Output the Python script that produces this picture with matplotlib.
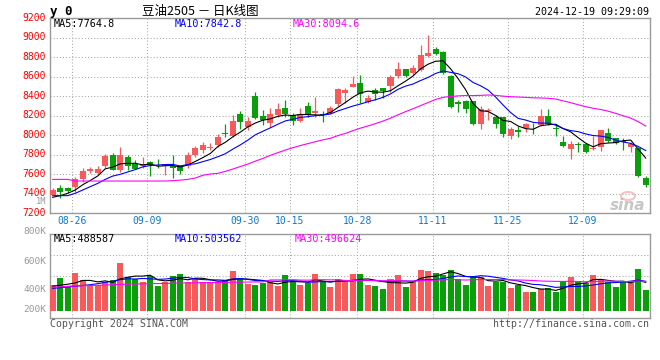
import matplotlib
matplotlib.use('Agg')
import matplotlib.pyplot as plt
import matplotlib.transforms as mtransforms
from matplotlib.patches import Ellipse
import numpy as np
import pandas as pd

# 豆油2505 日K线 (2024-08-21 ~ 2024-12-19)
opens = [7390, 7455, 7460, 7465, 7555, 7630, 7615, 7680, 7795, 7645,
         7780, 7705, 7680, 7728, 7690, 7690, 7690, 7680, 7680, 7800,
         7850, 7870, 7900, 8020, 7995, 8218, 8080, 8400, 8195, 8130,
         8210, 8283, 8210, 8145, 8300, 8225, 8218, 8225, 8320, 8430,
         8500, 8540, 8340, 8464, 8480, 8505, 8607, 8680, 8635, 8668,
         8812, 8884, 8855, 8610, 8343, 8350, 8350, 8115, 8245, 8190,
         8183, 7996, 8054, 8071, 8085, 8105, 8197, 8078, 7927, 7856,
         7910, 7910, 7856, 7876, 8020, 7975, 7944, 7883, 7873, 7559]
highs = [7455, 7490, 7470, 7576, 7668, 7678, 7690, 7805, 7820, 7885,
         7800, 7750, 7780, 7735, 7760, 7710, 7800, 7700, 7830, 7895,
         7935, 7925, 8010, 8115, 8210, 8250, 8190, 8445, 8260, 8285,
         8335, 8360, 8225, 8275, 8345, 8395, 8250, 8300, 8480, 8480,
         8605, 8617, 8410, 8480, 8485, 8617, 8754, 8685, 8725, 8925,
         9027, 8908, 8866, 8617, 8361, 8361, 8351, 8300, 8276, 8207,
         8190, 8088, 8095, 8122, 8122, 8269, 8269, 8115, 7996, 7945,
         7927, 7917, 7996, 8054, 8071, 7975, 7968, 7927, 7883, 7586]
lows = [7385, 7360, 7405, 7422, 7524, 7610, 7600, 7660, 7640, 7625,
        7645, 7650, 7660, 7585, 7660, 7595, 7560, 7600, 7660, 7780,
        7815, 7850, 7885, 7985, 7985, 8065, 8055, 8165, 8110, 8080,
        8190, 8190, 8110, 8140, 8185, 8190, 8140, 8218, 8300, 8335,
        8495, 8327, 8335, 8360, 8380, 8446, 8585, 8595, 8617, 8660,
        8805, 8823, 8627, 8276, 8242, 8225, 8105, 8064, 8156, 8070,
        7985, 7962, 7985, 8030, 8013, 8095, 8105, 7996, 7883, 7757,
        7825, 7822, 7849, 7842, 7934, 7910, 7849, 7832, 7569, 7473]
closes = [7440, 7415, 7425, 7555, 7630, 7655, 7650, 7790, 7645, 7795,
          7680, 7655, 7705, 7695, 7680, 7705, 7665, 7630, 7795, 7865,
          7900, 7880, 7985, 8010, 8150, 8140, 8150, 8180, 8155, 8218,
          8270, 8218, 8150, 8215, 8210, 8252, 8208, 8285, 8475, 8465,
          8525, 8425, 8378, 8425, 8458, 8600, 8680, 8612, 8690, 8822,
          8840, 8833, 8635, 8286, 8318, 8270, 8115, 8269, 8252, 8112,
          8013, 8064, 8037, 8115, 8080, 8197, 8115, 8061, 7893, 7910,
          7900, 7832, 7873, 8054, 7944, 7924, 7927, 7907, 7586, 7490]
# 成交量 (千手)
volumes = [452, 523, 435, 573, 501, 452, 452, 484, 501, 671,
           533, 507, 484, 543, 445, 484, 543, 559, 484, 523,
           478, 475, 484, 501, 592, 510, 461, 452, 468, 484,
           445, 550, 484, 452, 475, 559, 484, 435, 510, 478,
           559, 559, 452, 445, 412, 510, 550, 435, 491, 599,
           589, 573, 550, 599, 510, 452, 540, 527, 445, 484,
           484, 425, 452, 386, 386, 412, 425, 386, 491, 533,
           484, 468, 550, 501, 484, 435, 478, 468, 608, 403]
volumes = [v * 1000 for v in volumes]

# 图上读出的开头几天均线（需要更早的数据才能算）
ma5_head = [7364, 7381, 7405, 7439]
ma10_head = [7381, 7381, 7381, 7405, 7439, 7473, 7507, 7548, 7582]
ma30_head = [7548, 7548, 7548, 7531, 7531, 7531, 7531, 7531, 7531, 7531,
             7531, 7531, 7531, 7531, 7531, 7531, 7535, 7540, 7548, 7562,
             7590, 7603, 7610, 7630, 7654, 7680, 7705, 7735, 7763]
vma5_head = [440e3, 450e3, 460e3, 472e3]
vma10_head = [419e3, 425e3, 433e3, 440e3, 447e3, 455e3, 465e3, 478e3, 490e3]
vma30_head = [430e3, 435e3, 440e3, 443e3, 445e3, 447e3, 449e3, 452e3, 455e3, 458e3,
              460e3, 462e3, 463e3, 465e3, 466e3, 468e3, 470e3, 471e3, 472e3, 474e3,
              475e3, 476e3, 477e3, 478e3, 479e3, 480e3, 481e3, 482e3, 483e3]

date_labels = ['08-26', '09-09', '09-30', '10-15', '10-28', '11-11', '11-25', '12-09']
date_index = [3, 13, 26, 32, 41, 51, 61, 71]

df = pd.DataFrame({'open': opens, 'high': highs, 'low': lows, 'close': closes, 'vol': volumes})
x = np.arange(len(df))


def moving_avg(s, n, head):
    m = s.rolling(n).mean().to_numpy()
    m[:n - 1] = head
    return m


RED = '#f65a5a'
GREEN = '#0a9e0a'
GRID = '#a8a8a8'
FRAME = '#9a9a9a'
mono = 'DejaVu Sans Mono'
up = df['close'] >= df['open']
colors = np.where(up, RED, GREEN)

W, H = 660, 360
fig = plt.figure(figsize=(6.6, 3.6), dpi=100)
ax = fig.add_axes([50.3 / W, 1 - 213.3 / H, 599.4 / W, 195 / H])
axv = fig.add_axes([50.3 / W, 1 - 317.7 / H, 599.4 / W, 83.4 / H])
xlim = (-0.32, 79.53)
lw_ma = 0.8

# ---------- K线 ----------
ax.vlines(x, df['low'], df['high'], colors=colors, lw=0.9, zorder=3)
body = (df['close'] - df['open']).abs().clip(lower=10)
ax.bar(x, body, bottom=df[['open', 'close']].min(axis=1), width=0.8,
       color=colors, linewidth=0, zorder=4)
ax.plot(x, moving_avg(df['close'], 5, ma5_head), color='black', lw=lw_ma, zorder=5)
ax.plot(x, moving_avg(df['close'], 10, ma10_head), color='#0000ff', lw=lw_ma, zorder=5)
ax.plot(x, moving_avg(df['close'], 30, ma30_head), color='#ff00ff', lw=lw_ma, zorder=5)
ax.set_xlim(*xlim)
ax.set_ylim(7200, 9200)
for p in range(7400, 9200, 200):
    ax.axhline(p, color=GRID, lw=0.75, ls=(0, (1, 2)), zorder=1)
for d in date_index:
    ax.axvline(d - 0.4, color=GRID, lw=0.75, ls=(0, (1, 2)), zorder=1)
ax.set_yticks(range(7200, 9201, 200))
ax.set_xticks([d - 0.4 for d in date_index])
ax.set_xticklabels(date_labels, fontfamily=mono, fontsize=7, color='#0a78d2')
ax.tick_params(axis='y', length=0, pad=3, labelcolor='red', labelsize=7)
ax.tick_params(axis='x', length=0, pad=2)
for lbl in ax.get_yticklabels():
    lbl.set_fontfamily(mono)
    lbl.set_transform(lbl.get_transform() + mtransforms.ScaledTranslation(0, 0.015, fig.dpi_scale_trans))

# ---------- 成交量 ----------
vbase = 200e3
axv.bar(x, df['vol'] - vbase, bottom=vbase, width=0.8, color=colors, linewidth=0, zorder=3)
axv.plot(x, moving_avg(df['vol'], 5, vma5_head), color='black', lw=lw_ma, zorder=5)
axv.plot(x, moving_avg(df['vol'], 10, vma10_head), color='#0000ff', lw=lw_ma, zorder=5)
axv.plot(x, moving_avg(df['vol'], 30, vma30_head), color='#ff00ff', lw=lw_ma, zorder=5)
axv.set_xlim(*xlim)
vlo, vhi = 131.4e3, 949e3
axv.set_ylim(vlo, vhi)
for f in (0.25, 0.5, 0.75):
    axv.axhline(vlo + f * (vhi - vlo), color=GRID, lw=0.75, ls=(0, (1, 2)), zorder=1)
for d in date_index:
    axv.axvline(d - 0.4, color=GRID, lw=0.75, ls=(0, (1, 2)), zorder=1)
axv.set_xticks([])
axv.set_yticks([])

for a in (ax, axv):
    for s in a.spines.values():
        s.set_color(FRAME)
        s.set_linewidth(1.0)


def px_text(px, py, s, **kw):
    fig.text(px / W, 1 - py / H, s, **kw)


# 标题和图例
px_text(50, 11, 'y 0', fontfamily=mono, fontsize=9, fontweight='bold', va='center')
px_text(200, 11, '豆油2505 － 日K线图', family=['Noto Sans CJK SC', 'DejaVu Sans'],
        fontsize=9, ha='center', va='center')
px_text(649, 12, '2024-12-19 09:29:09', fontfamily=mono, fontsize=7.2, ha='right', va='center')
px_text(54, 24, 'MA5:7764.8', fontfamily=mono, fontsize=7.3, va='center', color='black')
px_text(175, 24, 'MA10:7842.8', fontfamily=mono, fontsize=7.3, va='center', color='#0000ff')
px_text(293, 24, 'MA30:8094.6', fontfamily=mono, fontsize=7.3, va='center', color='#ff00ff')
px_text(54, 238.5, 'MA5:488587', fontfamily=mono, fontsize=7.3, va='center', color='black')
px_text(175, 238.5, 'MA10:503562', fontfamily=mono, fontsize=7.3, va='center', color='#0000ff')
px_text(295, 238.5, 'MA30:496624', fontfamily=mono, fontsize=7.3, va='center', color='#ff00ff')

# 成交量刻度
px_text(46.5, 202, '1M', fontfamily=mono, fontsize=6.2, ha='right', va='center', color='#999999')
for lab, py in [('800K', 231), ('600K', 261), ('400K', 290), ('200K', 310)]:
    px_text(46.5, py, lab, fontfamily=mono, fontsize=6.8, ha='right', va='center', color='#999999')

px_text(50, 324, 'Copyright 2024 SINA.COM', fontfamily=mono, fontsize=7.1, va='center', color='#555555')
px_text(649, 324, 'http://finance.sina.com.cn', fontfamily=mono, fontsize=7.1, ha='right',
        va='center', color='#555555')
# sina 水印
fig.patches.append(Ellipse((628 / W, 1 - 196 / H), 14 / W, 8 / H, transform=fig.transFigure,
                           facecolor='none', edgecolor='#f4b4b4', lw=1.5, alpha=0.8))
px_text(628, 205, 'sina', fontsize=11, fontstyle='italic', fontweight='bold', ha='center',
        va='center', color='#b8b8b8', alpha=0.8)

fig.savefig('out.png', dpi=100)
